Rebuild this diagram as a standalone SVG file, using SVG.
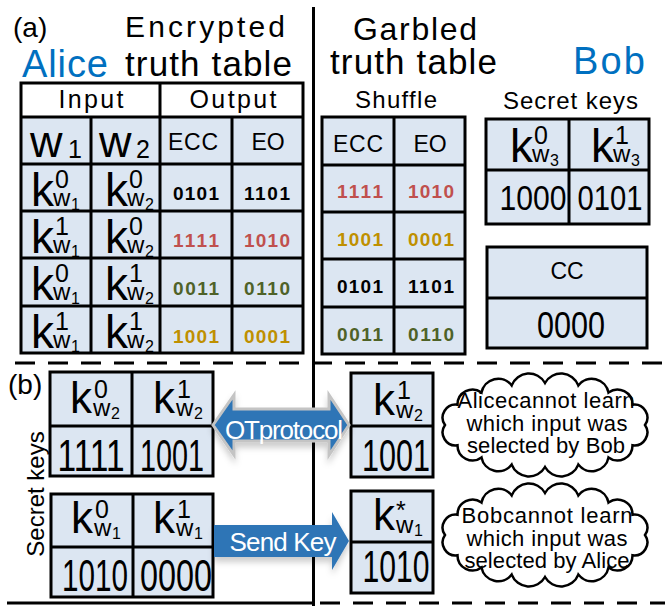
<svg xmlns="http://www.w3.org/2000/svg" width="665" height="606" viewBox="0 0 665 606">
<style>
text { font-family: "Liberation Sans", Arial, sans-serif; fill: #000; }
.bg { fill: #DCE6F2; }
.bx { fill: none; stroke: #000; stroke-width: 3; }
.ln { stroke: #000; stroke-width: 3; fill: none; }
.mid { text-anchor: middle; }
.hd { font-size: 23px; text-anchor: middle; }
.num { font-size: 19px; font-weight: bold; text-anchor: middle; }
.red { fill: #C0504D; }
.grn { fill: #4F6228; }
.gld { fill: #BF9000; }
.blue { fill: #0070C0; }
.k { font-size: 46px; }
.kb { font-size: 44px; }
.big { font-size: 44px; text-anchor: middle; }
.cl { font-size: 22px; text-anchor: middle; }
.wt { fill: #fff; }
</style>
<defs>
<path id="cloud" d="M445,425 A13,13 0 0 1 457.5,404.7 A15,15 0 0 1 481.5,392.6 A17,17 0 0 1 511.7,385.4 A18.4,18.4 0 0 1 545,383 A18.4,18.4 0 0 1 578.3,385.4 A17,17 0 0 1 608.5,392.6 A15,15 0 0 1 632.5,404.7 A13,13 0 0 1 645,425 A13,13 0 0 1 632.5,445.3 A15,15 0 0 1 608.5,457.4 A17,17 0 0 1 578.3,464.6 A18.4,18.4 0 0 1 545,467 A18.4,18.4 0 0 1 511.7,464.6 A17,17 0 0 1 481.5,457.4 A15,15 0 0 1 457.5,445.3 A13,13 0 0 1 445,425 Z" fill="#fff" stroke="#000" stroke-width="2.5"/>
<filter id="sh" x="-10%" y="-20%" width="120%" height="160%">
<feDropShadow dx="0" dy="5" stdDeviation="3" flood-color="#000" flood-opacity="0.2"/>
</filter>
</defs>

<g id="dividers">
<line class="ln" x1="313.5" y1="7" x2="313.5" y2="606"/>
<line class="ln" x1="15" y1="363" x2="665" y2="363" stroke-dasharray="20 13"/>
<line class="ln" x1="7" y1="603" x2="313" y2="603"/>
<line class="ln" x1="320" y1="603" x2="665" y2="603" stroke-dasharray="20 13"/>
</g>

<g id="titles">
<text x="13" y="37" font-size="28">(a)</text>
<text x="125" y="37" font-size="30" textLength="160">Encrypted</text>
<text x="22" y="77" font-size="38" class="blue" textLength="86">Alice</text>
<text x="125" y="76" font-size="35" textLength="167">truth table</text>
<text x="353" y="40" font-size="32" textLength="124">Garbled</text>
<text x="330" y="74" font-size="35" textLength="167">truth table</text>
<text x="573" y="74" font-size="38" class="blue" textLength="72">Bob</text>
<text x="355" y="108" font-size="24" textLength="82">Shuffle</text>
<text x="503" y="109" font-size="24" textLength="135">Secret keys</text>
<text x="8" y="394" font-size="28">(b)</text>
<text transform="translate(44,494) rotate(-90)" font-size="24" class="mid">Secret keys</text>
</g>

<g id="alice-table">
<rect class="bg" x="21" y="83" width="282" height="270"/>
<rect x="21" y="83" width="282" height="34" fill="#fff"/>
<rect class="bx" x="21" y="83" width="282" height="270"/>
<path class="ln" d="M21,117H303M21,164H303M21,211H303M21,258H303M21,306H303M160,83V353M91,117V353M232,117V353"/>
<text x="91" y="108" font-size="25" class="mid" textLength="65">Input</text>
<text x="233" y="108" font-size="25" class="mid" textLength="87">Output</text>
<text x="30" y="157" font-size="45">w<tspan x="68" y="158" font-size="25">1</tspan></text>
<text x="99" y="157" font-size="45">w<tspan x="136" y="158" font-size="25">2</tspan></text>
<text class="hd" x="193" y="150" textLength="50">ECC</text>
<text class="hd" x="268" y="150">EO</text>
<text class="k" x="31" y="206">k<tspan x="55" y="188" font-size="25">0</tspan><tspan x="53" y="206" font-size="24">w</tspan><tspan x="71" y="210" font-size="16">1</tspan></text>
<text class="k" x="105" y="206">k<tspan x="129" y="188" font-size="25">0</tspan><tspan x="127" y="206" font-size="24">w</tspan><tspan x="145" y="210" font-size="16">2</tspan></text>
<text class="num" x="196" y="200" textLength="46">0101</text>
<text class="num" x="267" y="200" textLength="46">1101</text>
<text class="k" x="31" y="253">k<tspan x="55" y="235" font-size="25">1</tspan><tspan x="53" y="253" font-size="24">w</tspan><tspan x="71" y="257" font-size="16">1</tspan></text>
<text class="k" x="105" y="253">k<tspan x="129" y="235" font-size="25">0</tspan><tspan x="127" y="253" font-size="24">w</tspan><tspan x="145" y="257" font-size="16">2</tspan></text>
<text class="num red" x="196" y="247" textLength="46">1111</text>
<text class="num red" x="267" y="247" textLength="46">1010</text>
<text class="k" x="31" y="300">k<tspan x="55" y="282" font-size="25">0</tspan><tspan x="53" y="300" font-size="24">w</tspan><tspan x="71" y="304" font-size="16">1</tspan></text>
<text class="k" x="105" y="300">k<tspan x="129" y="282" font-size="25">1</tspan><tspan x="127" y="300" font-size="24">w</tspan><tspan x="145" y="304" font-size="16">2</tspan></text>
<text class="num grn" x="196" y="295" textLength="46">0011</text>
<text class="num grn" x="267" y="295" textLength="46">0110</text>
<text class="k" x="31" y="348">k<tspan x="55" y="330" font-size="25">1</tspan><tspan x="53" y="348" font-size="24">w</tspan><tspan x="71" y="352" font-size="16">1</tspan></text>
<text class="k" x="105" y="348">k<tspan x="129" y="330" font-size="25">1</tspan><tspan x="127" y="348" font-size="24">w</tspan><tspan x="145" y="352" font-size="16">2</tspan></text>
<text class="num gld" x="196" y="343" textLength="46">1001</text>
<text class="num gld" x="267" y="343" textLength="46">0001</text>
</g>

<g id="garbled-table">
<rect class="bg" x="322" y="117" width="143" height="237"/>
<rect class="bx" x="322" y="117" width="143" height="237"/>
<path class="ln" d="M322,165H465M322,212H465M322,259H465M322,307H465M394,117V354"/>
<text class="hd" x="358" y="152" textLength="50">ECC</text>
<text class="hd" x="430" y="152">EO</text>
<text class="num red" x="360" y="198" textLength="46">1111</text>
<text class="num red" x="431" y="198" textLength="46">1010</text>
<text class="num gld" x="360" y="246" textLength="46">1001</text>
<text class="num gld" x="431" y="246" textLength="46">0001</text>
<text class="num" x="360" y="293" textLength="46">0101</text>
<text class="num" x="431" y="293" textLength="46">1101</text>
<text class="num grn" x="360" y="341" textLength="46">0011</text>
<text class="num grn" x="431" y="341" textLength="46">0110</text>
</g>

<g id="bob-keys">
<rect class="bg" x="486" y="119" width="163" height="105"/>
<rect class="bx" x="486" y="119" width="163" height="105"/>
<path class="ln" d="M486,170H649M569,119V224"/>
<text class="k" x="510" y="162">k<tspan x="534" y="144" font-size="25">0</tspan><tspan x="532" y="162" font-size="24">w</tspan><tspan x="550" y="166" font-size="16">3</tspan></text>
<text class="k" x="591" y="162">k<tspan x="615" y="144" font-size="25">1</tspan><tspan x="613" y="162" font-size="24">w</tspan><tspan x="631" y="166" font-size="16">3</tspan></text>
<text x="533" y="210" font-size="35" class="mid" textLength="67" lengthAdjust="spacingAndGlyphs">1000</text>
<text x="610" y="210" font-size="35" class="mid" textLength="65" lengthAdjust="spacingAndGlyphs">0101</text>
</g>

<g id="bob-cc">
<rect class="bg" x="487" y="247" width="160" height="101"/>
<rect class="bx" x="487" y="247" width="160" height="101"/>
<path class="ln" d="M487,298H647"/>
<text class="hd" x="567" y="279">CC</text>
<text x="571" y="338" font-size="37" class="mid" textLength="68" lengthAdjust="spacingAndGlyphs">0000</text>
</g>

<g id="alice-w2-keys">
<rect class="bg" x="50" y="372" width="163" height="104"/>
<rect class="bx" x="50" y="372" width="163" height="104"/>
<path class="ln" d="M50,426H213M132,372V476"/>
<text class="kb" x="70" y="413">k<tspan x="94" y="398" font-size="25">0</tspan><tspan x="93" y="416" font-size="24">w</tspan><tspan x="111" y="419" font-size="16">2</tspan></text>
<text class="kb" x="153" y="413">k<tspan x="177" y="398" font-size="25">1</tspan><tspan x="176" y="416" font-size="24">w</tspan><tspan x="194" y="419" font-size="16">2</tspan></text>
<text class="big" x="91" y="471" textLength="67" lengthAdjust="spacingAndGlyphs">1111</text>
<text class="big" x="172" y="471" textLength="64" lengthAdjust="spacingAndGlyphs">1001</text>
</g>

<g id="alice-w1-keys">
<rect class="bg" x="51" y="494" width="162" height="103"/>
<rect class="bx" x="51" y="494" width="162" height="103"/>
<path class="ln" d="M51,547H213M133,494V597"/>
<text class="kb" x="71" y="533">k<tspan x="95" y="518" font-size="25">0</tspan><tspan x="94" y="536" font-size="24">w</tspan><tspan x="112" y="539" font-size="16">1</tspan></text>
<text class="kb" x="153" y="533">k<tspan x="177" y="518" font-size="25">1</tspan><tspan x="176" y="536" font-size="24">w</tspan><tspan x="194" y="539" font-size="16">1</tspan></text>
<text class="big" x="95" y="591" textLength="66" lengthAdjust="spacingAndGlyphs">1010</text>
<text class="big" x="176" y="591" textLength="72" lengthAdjust="spacingAndGlyphs">0000</text>
</g>

<g id="bob-w2-key">
<rect class="bg" x="351" y="373" width="82" height="104"/>
<rect class="bx" x="351" y="373" width="82" height="104"/>
<path class="ln" d="M351,426H433"/>
<text class="kb" x="373" y="415">k<tspan x="397" y="399" font-size="25">1</tspan><tspan x="396" y="418" font-size="24">w</tspan><tspan x="414" y="421" font-size="16">2</tspan></text>
<text class="big" x="396" y="471" textLength="68" lengthAdjust="spacingAndGlyphs">1001</text>
</g>

<g id="bob-w1-key">
<rect class="bg" x="351" y="491" width="82" height="102"/>
<rect class="bx" x="351" y="491" width="82" height="102"/>
<path class="ln" d="M351,542H433"/>
<text class="kb" x="373" y="530">k<tspan x="396" y="519" font-size="25">*</tspan><tspan x="396" y="533" font-size="24">w</tspan><tspan x="414" y="536" font-size="16">1</tspan></text>
<text class="big" x="396" y="582" textLength="67" lengthAdjust="spacingAndGlyphs">1010</text>
</g>

<g id="cloud-1">
<use href="#cloud"/>
<text class="cl" x="546" y="408" textLength="177">Alicecannot learn</text>
<text class="cl" x="547" y="431" textLength="161">which input was</text>
<text class="cl" x="546" y="453" textLength="158">selected by Bob</text>
</g>

<g id="cloud-2">
<use href="#cloud" transform="translate(0,110)"/>
<text class="cl" x="547" y="523" textLength="171">Bobcannot learn</text>
<text class="cl" x="547" y="546" textLength="161">which input was</text>
<text class="cl" x="547" y="568" textLength="165">selected by Alice</text>
</g>

<g id="connectors">
<g id="ot-protocol">
<polygon points="213,425 234,395 234,409 329,409 329,395 349,425 329,455 329,441 234,441 234,455" fill="#2E75B6" stroke="#C4C4C4" stroke-width="3" filter="url(#sh)"/>
<text x="284" y="439" font-size="26" class="mid wt" textLength="118">OTprotocol</text>
</g>
<g id="send-key">
<polygon points="214,525 332,525 332,512 349,541 332,570 332,557 214,557" fill="#2E75B6" filter="url(#sh)"/>
<text x="283" y="551" font-size="26" class="mid wt" textLength="107">Send Key</text>
</g>
</g>
</svg>
